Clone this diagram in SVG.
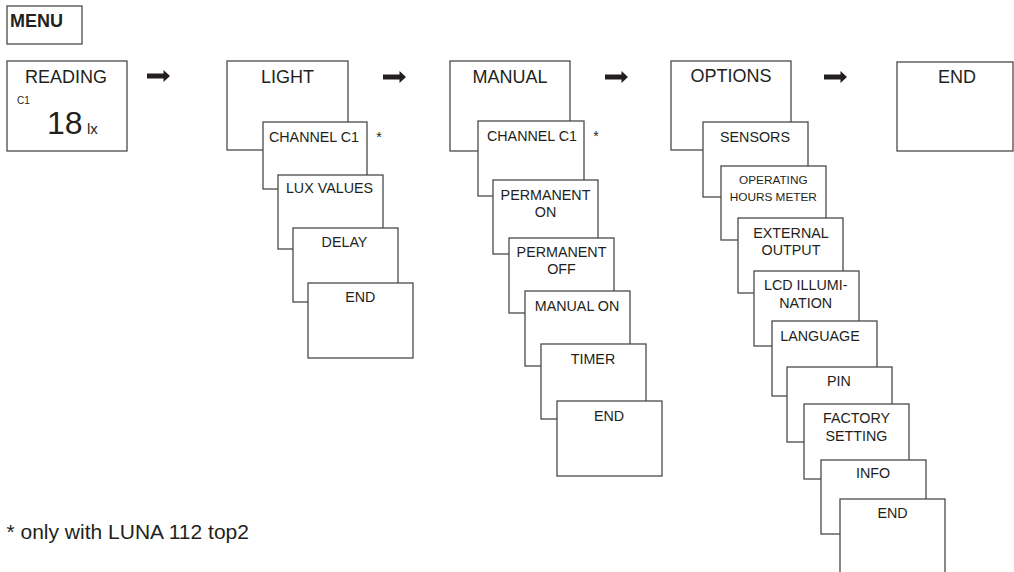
<svg xmlns="http://www.w3.org/2000/svg" xmlns:xlink="http://www.w3.org/1999/xlink" width="1014" height="572" viewBox="0 0 1014 572">
<style>
.b{fill:#fff;stroke:#4a4a4a;stroke-width:1.3}
.t{font-family:"Liberation Sans",Arial,sans-serif;fill:#231f20;text-anchor:middle}
.h{font-size:18px}
.s{font-size:14.3px}
.xs{font-size:11.8px}
.arr{fill:#231f20}
</style>
<defs>
<path id="arrow" d="M0,-2.6 H16.5 V-6 L23,0 L16.5,6 V2.6 H0 Z"/>
</defs>
<rect width="1014" height="572" fill="#fff"/>
<g id="menu"><rect class="b" x="7" y="6" width="75" height="38"/><text class="t" x="10" y="27" style="text-anchor:start;font-size:18px;font-weight:bold">MENU</text></g>
<g id="reading"><rect class="b" x="7" y="61" width="120" height="90"/><text class="t h" x="66" y="83">READING</text><text class="t" x="17" y="104" style="text-anchor:start;font-size:10px">C1</text><text class="t" x="47" y="134" style="text-anchor:start;font-size:32px">18</text><text class="t" x="87" y="134" style="text-anchor:start;font-size:15px">lx</text></g>

<g id="light"><rect class="b" x="227" y="61" width="121" height="89"/><text class="t h" x="287.5" y="83">LIGHT</text></g>
<g id="light-channel"><rect class="b" x="263" y="122" width="104" height="67"/><text class="t s" x="314" y="142">CHANNEL C1</text><text class="t s" x="379" y="142">*</text></g>
<g id="light-lux"><rect class="b" x="278" y="175" width="105" height="74"/><text class="t s" x="329.5" y="193">LUX VALUES</text></g>
<g id="light-delay"><rect class="b" x="293" y="228" width="105" height="74"/><text class="t s" x="344.5" y="247">DELAY</text></g>
<g id="light-end"><rect class="b" x="308" y="283" width="105" height="75"/><text class="t s" x="360.3" y="302">END</text></g>

<g id="manual"><rect class="b" x="450" y="61" width="120" height="90"/><text class="t h" x="510" y="83">MANUAL</text></g>
<g id="manual-channel"><rect class="b" x="478" y="121" width="106" height="75"/><text class="t s" x="532" y="141">CHANNEL C1</text><text class="t s" x="596" y="141">*</text></g>
<g id="manual-perm-on"><rect class="b" x="493" y="180" width="105" height="74"/><text class="t s" x="545.5" y="200">PERMANENT</text><text class="t s" x="545.5" y="217">ON</text></g>
<g id="manual-perm-off"><rect class="b" x="509" y="238" width="105" height="75"/><text class="t s" x="561.5" y="257">PERMANENT</text><text class="t s" x="561.5" y="274">OFF</text></g>
<g id="manual-on"><rect class="b" x="525" y="291" width="105" height="75"/><text class="t s" x="577" y="311">MANUAL ON</text></g>
<g id="manual-timer"><rect class="b" x="541" y="344" width="105" height="75"/><text class="t s" x="593" y="364">TIMER</text></g>
<g id="manual-end"><rect class="b" x="557" y="401" width="105" height="75"/><text class="t s" x="609" y="421">END</text></g>

<g id="options"><rect class="b" x="671" y="61" width="120" height="89"/><text class="t h" x="731" y="82">OPTIONS</text></g>
<g id="opt-sensors"><rect class="b" x="703" y="122" width="105" height="75"/><text class="t s" x="755" y="142">SENSORS</text></g>
<g id="opt-hours"><rect class="b" x="721" y="166" width="105" height="74"/><text class="t xs" x="773.3" y="184">OPERATING</text><text class="t xs" x="773.3" y="201">HOURS METER</text></g>
<g id="opt-external"><rect class="b" x="738" y="218" width="105" height="75"/><text class="t s" x="791" y="238">EXTERNAL</text><text class="t s" x="791" y="255">OUTPUT</text></g>
<g id="opt-lcd"><rect class="b" x="754" y="271" width="105" height="75"/><text class="t s" x="805.7" y="290">LCD ILLUMI-</text><text class="t s" x="805.7" y="308">NATION</text></g>
<g id="opt-language"><rect class="b" x="772" y="321" width="105" height="75"/><text class="t s" x="820" y="341">LANGUAGE</text></g>
<g id="opt-pin"><rect class="b" x="787" y="367" width="105" height="75"/><text class="t s" x="839" y="386">PIN</text></g>
<g id="opt-factory"><rect class="b" x="804" y="404" width="105" height="75"/><text class="t s" x="856.5" y="423">FACTORY</text><text class="t s" x="856.5" y="441">SETTING</text></g>
<g id="opt-info"><rect class="b" x="821" y="460" width="105" height="74"/><text class="t s" x="873" y="478.3">INFO</text></g>
<g id="opt-end"><rect class="b" x="840" y="499" width="105" height="80"/><text class="t s" x="892.5" y="517.7">END</text></g>

<g id="end"><rect class="b" x="897" y="62" width="116" height="89"/><text class="t h" x="957" y="83">END</text></g>

<g id="connectors" class="arr">
<use xlink:href="#arrow" x="147" y="76"/>
<use xlink:href="#arrow" x="383" y="77"/>
<use xlink:href="#arrow" x="605" y="77"/>
<use xlink:href="#arrow" x="824" y="77"/>
</g>

<text class="t" x="6.5" y="539" style="text-anchor:start;font-size:21px">* only with LUNA 112 top2</text>
</svg>
